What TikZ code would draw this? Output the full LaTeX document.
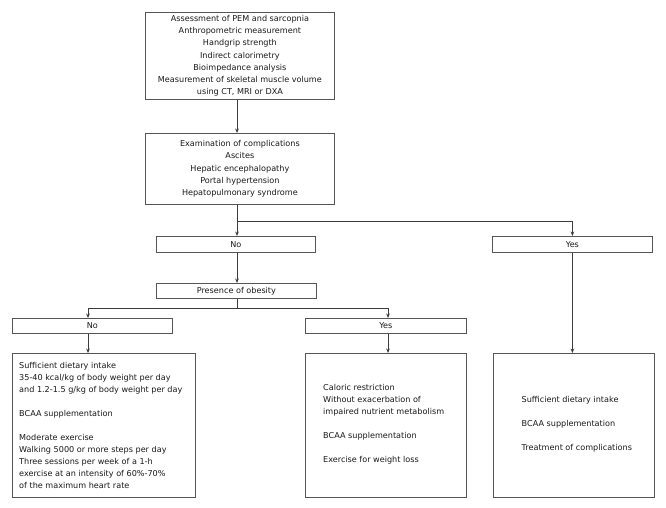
\documentclass[tikz,border=0pt]{standalone}
\usepackage{fontspec}
\setmainfont{DejaVu Sans}
\usetikzlibrary{arrows.meta}
\definecolor{boxgray}{RGB}{85,85,85}
\definecolor{linegray}{RGB}{60,60,60}
\definecolor{txtcol}{RGB}{25,25,25}
\begin{document}
\begin{tikzpicture}[x=1pt,y=-1pt,
  box/.style={draw=boxgray, line width=0.8pt, inner sep=0pt, anchor=north west, align=center,
    font=\fontsize{8.1}{12.2}\selectfont, text=txtcol},
  txt/.style={inner sep=0pt, anchor=west, align=left, font=\fontsize{8.1}{12.0}\selectfont, text=txtcol},
  arr/.style={draw=linegray, line width=0.8pt, -{Stealth[length=4.5pt,width=3.6pt]}},
  ln/.style={draw=linegray, line width=0.8pt}]
\useasboundingbox (0,0) rectangle (666,508);
\fill[white] (0,0) rectangle (666,508);

\node[box, minimum width=189pt, minimum height=87pt] (b1) at (145,12)
  {Assessment of PEM and sarcopnia\\Anthropometric measurement\\Handgrip strength\\Indirect calorimetry\\Bioimpedance analysis\\Measurement of skeletal muscle volume\\using CT, MRI or DXA};
\node[box, minimum width=189pt, minimum height=71pt] (b2) at (145,133)
  {Examination of complications\\Ascites\\Hepatic encephalopathy\\Portal hypertension\\Hepatopulmonary syndrome};
\node[box, minimum width=159pt, minimum height=16pt] (no1) at (156,236) {No};
\node[box, minimum width=160pt, minimum height=16pt] (yes1) at (492,236) {Yes};
\node[box, minimum width=160pt, minimum height=15pt] (ob) at (156,283) {Presence of obesity};
\node[box, minimum width=160pt, minimum height=15pt] (no2) at (12,318) {No};
\node[box, minimum width=161pt, minimum height=15pt] (yes2) at (305,318) {Yes};

\node[box, minimum width=183pt, minimum height=144pt] (d1) at (12,353) {};
\node[box, minimum width=161pt, minimum height=144pt] (d2) at (305,353) {};
\node[box, minimum width=161pt, minimum height=144pt] (d3) at (493,353) {};

\node[txt] (d1t) at ([xshift=7pt]d1.west)
  {Sufficient dietary intake\\35-40 kcal/kg of body weight per day\\and 1.2-1.5 g/kg of body weight per day\\[12pt]BCAA supplementation\\[12pt]Moderate exercise\\Walking 5000 or more steps per day\\Three sessions per week of a 1-h\\exercise at an intensity of 60\%-70\%\\of the maximum heart rate};
\node[txt] (d2t) at ([xshift=18pt,yshift=1.3pt]d2.west)
  {Caloric restriction\\Without exacerbation of\\impaired nutrient metabolism\\[12pt]BCAA supplementation\\[12pt]Exercise for weight loss};
\node[txt] (d3t) at ([xshift=28.5pt,yshift=1pt]d3.west)
  {Sufficient dietary intake\\[12pt]BCAA supplementation\\[12pt]Treatment of complications};

\coordinate (sp) at (237,0);
\coordinate (j1) at (237,221);
\coordinate (j2) at (237,308);
\coordinate (la) at (88,0);
\coordinate (ma) at (388,0);

\draw[arr] (b1.south -| sp) -- (b2.north -| sp);
\draw[arr] (b2.south -| sp) -- (no1.north -| sp);
\draw[arr] (j1) -| (yes1.north);
\draw[arr] (no1.south -| sp) -- (ob.north -| sp);
\draw[ln] (ob.south -| sp) -- (j2);
\draw[arr] (j2) -| (no2.north -| la);
\draw[arr] (j2) -| (yes2.north -| ma);
\draw[arr] (no2.south -| la) -- (d1.north -| la);
\draw[arr] (yes2.south -| ma) -- (d2.north -| ma);
\draw[arr] (yes1.south) -- (yes1.south |- d3.north);
\end{tikzpicture}
\end{document}
